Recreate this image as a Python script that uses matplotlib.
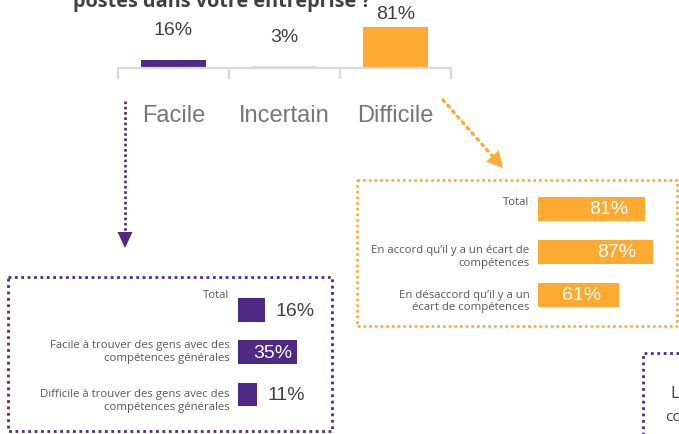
import matplotlib
matplotlib.use("Agg")
import matplotlib.pyplot as plt
from matplotlib.patches import Polygon
import numpy as np

# ---- data -------------------------------------------------------------
categories = ["Facile", "Incertain", "Difficile"]
overall_values = [16, 3, 81]

difficult_labels = ["Total",
                    "En accord qu’il y a un écart de\ncompétences",
                    "En désaccord qu’il y a un\nécart de compétences"]
difficult_values = [81, 87, 61]

easy_labels = ["Total",
               "Facile à trouver des gens avec des\ncompétences générales",
               "Difficile à trouver des gens avec des\ncompétences générales"]
easy_values = [16, 35, 11]

title_tail = "postes dans votre entreprise ?"

# ---- style ------------------------------------------------------------
PURPLE = "#4E2A84"
ORANGE = "#FDAA33"
LIGHT = "#D9D9D9"
DARK = "#404040"
MID = "#767676"
LABEL = "#595959"
NUM_FONT = ["Liberation Sans", "DejaVu Sans"]
TXT_FONT = ["Open Sans", "DejaVu Sans"]

W, H = 679, 435
PT = 72 / 100  # points per pixel

fig = plt.figure(figsize=(W / 100, H / 100), dpi=100)


def px_axes(x0, y0, x1, y1):
    ax = fig.add_axes([x0 / W, 1 - y1 / H, (x1 - x0) / W, (y1 - y0) / H])
    ax.patch.set_visible(False)
    return ax


# overlay in pixel units for frames, arrows and loose text
ov = fig.add_axes([0, 0, 1, 1])
ov.set_xlim(0, W)
ov.set_ylim(H, 0)
ov.axis("off")

ov.text(73, 7, title_tail, fontsize=14.3, weight="bold", family=TXT_FONT,
        color=DARK, ha="left", va="baseline", clip_on=True)


def dotted(xs, ys, color, lw, pattern, cap="butt"):
    line, = ov.plot(xs, ys, color=color, lw=lw, ls=(0, pattern))
    line.set_dash_capstyle(cap)
    return line


# frames
dotted([357, 677, 677, 357, 357], [181, 181, 327, 327, 181], ORANGE, 1.9, (1, 1.15))
dotted([8, 332, 332, 8, 8], [278, 278, 432, 432, 278], PURPLE, 2.0, (1, 1.3))
dotted([643, 643, 690], [440, 354, 354], PURPLE, 2.0, (1, 1.3))

ov.text(670, 394, "Les", fontsize=12, family=TXT_FONT, color=DARK,
        ha="left", va="center", clip_on=True)
ov.text(665, 418, "compétences", fontsize=11, family=TXT_FONT, color=DARK,
        ha="left", va="center", clip_on=True)


def dotted_arrow(start, tip, color, lw, pattern, head_len, head_half, cap="butt"):
    start = np.asarray(start, float)
    tip = np.asarray(tip, float)
    d = (tip - start) / np.linalg.norm(tip - start)
    perp = np.array([-d[1], d[0]])
    base = tip - head_len * d
    dotted([start[0], base[0]], [start[1], base[1]], color, lw, pattern, cap)
    ov.add_patch(Polygon([base + head_half * perp, base - head_half * perp, tip],
                         closed=True, color=color, lw=0))


dotted_arrow((125, 102), (125, 249), PURPLE, 1.9, (1, 1), 16, 7.5)
dotted_arrow((443, 101), (503, 169), ORANGE, 2.4, (0.6, 1.6), 16, 8.5, cap="round")

# ---- top column chart -------------------------------------------------
ax = px_axes(118, 0, 451, 69)
ax.bar(range(len(categories)), overall_values, width=0.58,
       color=[PURPLE, LIGHT, ORANGE])
ax.set_xlim(-0.5, 2.5)
ax.set_ylim(0, 69 / 0.506)
for side in ("top", "left", "right"):
    ax.spines[side].set_visible(False)
ax.spines["bottom"].set_color(LIGHT)
ax.spines["bottom"].set_linewidth(1.6)
ax.set_yticks([])
ax.set_xticks([-0.5, 0.5, 1.5, 2.5])
ax.set_xticklabels([])
ax.tick_params(axis="x", length=8, width=1.6, color=LIGHT, direction="out")

value_offsets_px = [30, 30, 14]
for i, (cat, v) in enumerate(zip(categories, overall_values)):
    ax.annotate(f"{v}%", xy=(i, v), xytext=(0, value_offsets_px[i] * PT),
                textcoords="offset points", ha="center", va="center",
                fontsize=14, family=NUM_FONT, color=DARK)
    ax.annotate(cat, xy=(i, 0), xycoords=("data", "axes fraction"),
                xytext=(0, -47 * PT), textcoords="offset points",
                ha="center", va="center", fontsize=17, family=NUM_FONT,
                color=MID, annotation_clip=False)


# ---- horizontal bar panels --------------------------------------------
def panel(rect, labels, values, color, label_dy, inside_pad, outside_pad,
          inside_min):
    a = px_axes(*rect)
    ys = np.arange(len(values))
    a.barh(ys, values, height=0.56, color=color)
    a.set_xlim(0, 100)
    a.set_ylim(len(values) - 0.5, -0.5)
    a.axis("off")
    for y, lbl, v, dy in zip(ys, labels, values, label_dy):
        a.annotate(lbl, xy=(0, y), xytext=(-8.5 * PT, -dy * PT),
                   textcoords="offset points", ha="right", va="center",
                   multialignment="right", fontsize=8.2, family=TXT_FONT,
                   color=LABEL, linespacing=1.2, annotation_clip=False)
        if v >= inside_min:
            a.annotate(f"{v}%", xy=(v, y), xytext=(-inside_pad * PT, 0),
                       textcoords="offset points", ha="right", va="center",
                       fontsize=14, family=NUM_FONT, color="white")
        else:
            a.annotate(f"{v}%", xy=(v, y), xytext=(outside_pad * PT, 0),
                       textcoords="offset points", ha="left", va="center",
                       fontsize=14, family=NUM_FONT, color=DARK)
    return a


panel((538, 188.6, 670, 317), difficult_labels, difficult_values, ORANGE,
      [-7, 4, 6], 17, 10, 0)
panel((238, 290, 407, 416.6), easy_labels, easy_values, PURPLE,
      [-16, -1.5, 5.5], 5, 10.5, 30)

fig.savefig("out.png", dpi=100)
